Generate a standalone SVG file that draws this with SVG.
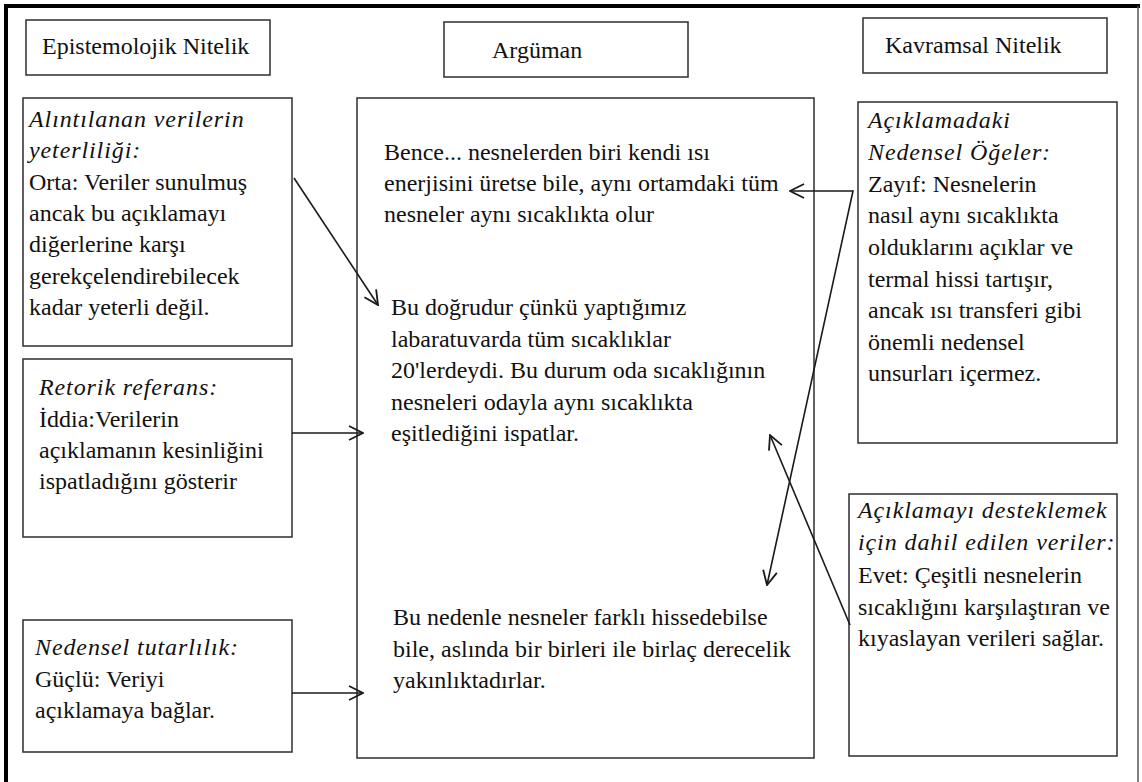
<svg xmlns="http://www.w3.org/2000/svg" width="1142" height="782" viewBox="0 0 1142 782">
<style>
.box{fill:#fff;stroke:#3a3a3a;stroke-width:1.6}
.emph{font-style:italic;letter-spacing:0.9px}
.conn{fill:none;stroke:#1a1a1a;stroke-width:1.6}
</style>
<defs>
<marker id="ah" viewBox="0 0 16 16" refX="15" refY="8" markerWidth="16" markerHeight="16" markerUnits="userSpaceOnUse" orient="auto-start-reverse">
<path d="M1,1 L15,8 L1,15" fill="none" stroke="#1a1a1a" stroke-width="1.8"/>
</marker>
</defs>
<rect x="0" y="0" width="1142" height="782" fill="#fff"/>
<g id="frame">
<line x1="4" y1="6" x2="1140" y2="6" stroke="#000" stroke-width="4"/>
<line x1="6" y1="4" x2="6" y2="782" stroke="#000" stroke-width="4"/>
<line x1="1138" y1="6" x2="1138" y2="782" stroke="#555" stroke-width="1.5"/>
</g>
<g id="h-epist">
<rect class="box" x="26" y="20" width="244" height="55"/>
<text x="42" y="54" font-family="Liberation Serif, serif" font-size="24" fill="#111">Epistemolojik Nitelik</text>
</g>
<g id="h-arg">
<rect class="box" x="444" y="22" width="244" height="55"/>
<text x="492" y="58" font-family="Liberation Serif, serif" font-size="24" fill="#111">Argüman</text>
</g>
<g id="h-kavr">
<rect class="box" x="863" y="18" width="244" height="55"/>
<text x="885" y="53" font-family="Liberation Serif, serif" font-size="24" fill="#111">Kavramsal Nitelik</text>
</g>
<g id="n-alinti">
<rect class="box" x="23" y="98" width="269" height="248"/>
<text font-family="Liberation Serif, serif" font-size="24" fill="#111"><tspan class="emph" x="29" y="127">Alıntılanan verilerin</tspan><tspan class="emph" x="29" y="158">yeterliliği:</tspan><tspan x="29" y="190">Orta: Veriler sunulmuş</tspan><tspan x="29" y="221">ancak bu açıklamayı</tspan><tspan x="29" y="252">diğerlerine karşı</tspan><tspan x="29" y="284">gerekçelendirebilecek</tspan><tspan x="29" y="315">kadar yeterli değil.</tspan></text>
</g>
<g id="n-retorik">
<rect class="box" x="23" y="359" width="269" height="178"/>
<text font-family="Liberation Serif, serif" font-size="24" fill="#111"><tspan class="emph" x="39" y="395">Retorik referans:</tspan><tspan x="39" y="427">İddia:Verilerin</tspan><tspan x="39" y="458">açıklamanın kesinliğini</tspan><tspan x="39" y="489">ispatladığını gösterir</tspan></text>
</g>
<g id="n-nedensel">
<rect class="box" x="23" y="620" width="269" height="132"/>
<text font-family="Liberation Serif, serif" font-size="24" fill="#111"><tspan class="emph" x="35" y="655">Nedensel tutarlılık:</tspan><tspan x="35" y="687">Güçlü: Veriyi</tspan><tspan x="35" y="718">açıklamaya bağlar.</tspan></text>
</g>
<g id="n-arguman">
<rect class="box" x="357" y="98" width="457" height="660"/>
<text font-family="Liberation Serif, serif" font-size="24" fill="#111"><tspan x="384" y="160">Bence... nesnelerden biri kendi ısı</tspan><tspan x="384" y="191">enerjisini üretse bile, aynı ortamdaki tüm</tspan><tspan x="384" y="222">nesneler aynı sıcaklıkta olur</tspan></text>
<text font-family="Liberation Serif, serif" font-size="24" fill="#111"><tspan x="391" y="315">Bu doğrudur çünkü yaptığımız</tspan><tspan x="391" y="347">labaratuvarda tüm sıcaklıklar</tspan><tspan x="391" y="378">20'lerdeydi. Bu durum oda sıcaklığının</tspan><tspan x="391" y="410">nesneleri odayla aynı sıcaklıkta</tspan><tspan x="391" y="441">eşitlediğini ispatlar.</tspan></text>
<text font-family="Liberation Serif, serif" font-size="24" fill="#111"><tspan x="393" y="625">Bu nedenle nesneler farklı hissedebilse</tspan><tspan x="393" y="657">bile, aslında bir birleri ile birlaç derecelik</tspan><tspan x="393" y="688">yakınlıktadırlar.</tspan></text>
</g>
<g id="n-aciklama">
<rect class="box" x="858" y="102" width="259" height="341"/>
<text font-family="Liberation Serif, serif" font-size="24" fill="#111"><tspan class="emph" x="868" y="128">Açıklamadaki</tspan><tspan class="emph" x="868" y="160">Nedensel Öğeler:</tspan><tspan x="868" y="192">Zayıf:  Nesnelerin</tspan><tspan x="868" y="223">nasıl aynı sıcaklıkta</tspan><tspan x="868" y="255">olduklarını açıklar ve</tspan><tspan x="868" y="287">termal hissi tartışır,</tspan><tspan x="868" y="318">ancak ısı transferi gibi</tspan><tspan x="868" y="350">önemli nedensel</tspan><tspan x="868" y="381">unsurları içermez.</tspan></text>
</g>
<g id="n-veriler">
<rect class="box" x="849" y="494" width="268" height="262"/>
<text font-family="Liberation Serif, serif" font-size="24" fill="#111"><tspan class="emph" x="858" y="518">Açıklamayı desteklemek</tspan><tspan class="emph" x="858" y="550">için dahil edilen veriler:</tspan><tspan x="858" y="583">Evet: Çeşitli nesnelerin</tspan><tspan x="858" y="615">sıcaklığını karşılaştıran ve</tspan><tspan x="858" y="646">kıyaslayan verileri sağlar.</tspan></text>
</g>
<g id="connectors">
<line class="conn" x1="294" y1="178" x2="378" y2="305" marker-end="url(#ah)"/>
<line class="conn" x1="292" y1="433" x2="363" y2="433" marker-end="url(#ah)"/>
<line class="conn" x1="292" y1="693" x2="363" y2="693" marker-end="url(#ah)"/>
<polyline class="conn" points="790,191 853,191 767,585" marker-start="url(#ah)" marker-end="url(#ah)"/>
<line class="conn" x1="850" y1="625" x2="770" y2="435" marker-end="url(#ah)"/>
</g>
</svg>
